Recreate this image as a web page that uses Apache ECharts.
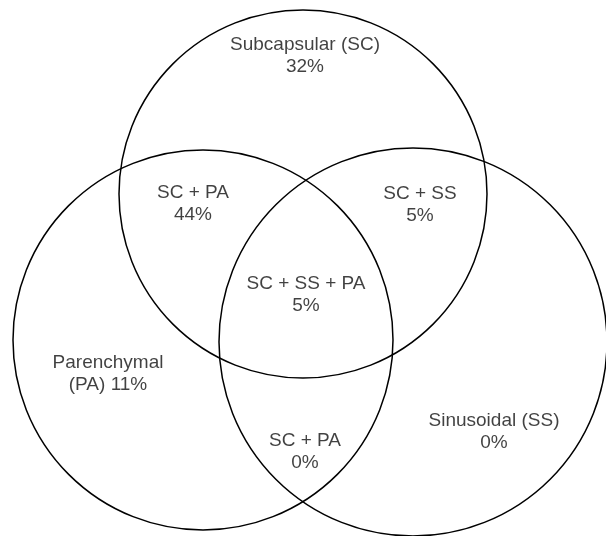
<!DOCTYPE html>
<html>
<head>
<meta charset="utf-8">
<script src="https://cdn.jsdelivr.net/npm/echarts@6/dist/echarts.min.js"></script>
<style>
html, body { margin: 0; padding: 0; background: #ffffff; }
#chart { width: 606px; height: 536px; }
</style>
</head>
<body>
<div id="chart"></div>
<script>
// Sets (circles) of the Venn diagram
const setNames = ['Subcapsular (SC)', 'Parenchymal (PA)', 'Sinusoidal (SS)'];
const setCenterX = [303, 203, 413];
const setCenterY = [194, 340, 342];
const setRadius = [184, 190, 194];

// Regions and their percentages
const regionTitles = ['Subcapsular (SC)', 'SC + PA', 'SC + SS', 'SC + SS + PA', 'Parenchymal\n(PA)', 'SC + PA', 'Sinusoidal (SS)'];
const regionPercents = [32, 44, 5, 5, 11, 0, 0];
const regionX = [305, 193, 420, 306, 108, 305, 494];
const regionY = [56, 204, 205, 295, 374, 452, 432];

const chart = echarts.init(document.getElementById('chart'), null, { renderer: 'canvas' });

const circleData = setNames.map((n, i) => ({ name: n, value: [setCenterX[i], setCenterY[i], setRadius[i]] }));
const labelData = regionTitles.map((t, i) => ({ name: t, value: [regionX[i], regionY[i], regionPercents[i]] }));

const option = {
  backgroundColor: '#ffffff',
  animation: false,
  grid: { left: 0, right: 0, top: 0, bottom: 0 },
  xAxis: { type: 'value', min: 0, max: 606, show: false },
  yAxis: { type: 'value', min: 0, max: 536, inverse: true, show: false },
  series: [
    {
      type: 'custom',
      data: circleData,
      clip: false,
      renderItem: function (params, api) {
        const c = api.coord([api.value(0), api.value(1)]);
        const s = api.size([api.value(2), api.value(2)]);
        return {
          type: 'circle',
          shape: { cx: c[0], cy: c[1], r: s[0] },
          style: { fill: 'none', stroke: '#000000', lineWidth: 1.5 }
        };
      }
    },
    {
      type: 'scatter',
      data: labelData,
      symbolSize: 0,
      silent: true,
      label: {
        show: true,
        position: 'inside',
        align: 'center',
        verticalAlign: 'middle',
        color: '#111111',
        fontFamily: 'Liberation Sans',
        fontSize: 19,
        lineHeight: 22,
        formatter: function (p) {
          const t = p.name;
          const v = p.value[2] + '%';
          return t.indexOf('\n') >= 0 ? t + ' ' + v : t + '\n' + v;
        }
      }
    }
  ]
};
chart.setOption(option);
</script>
</body>
</html>
